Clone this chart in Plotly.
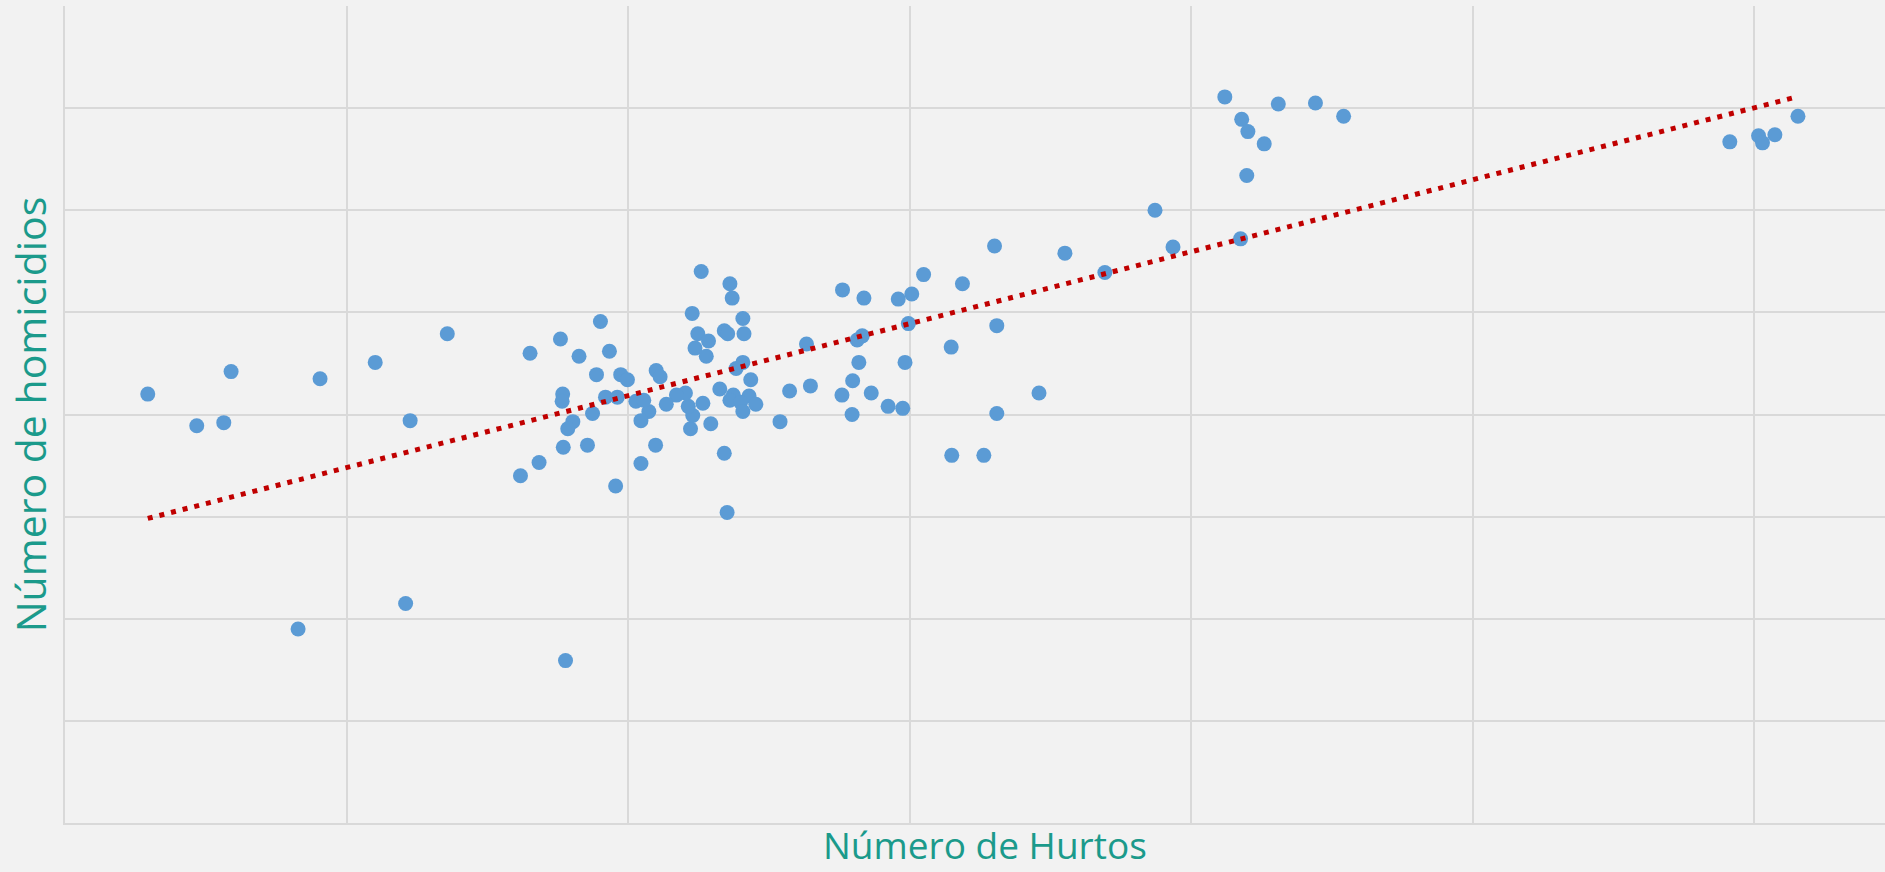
import numpy as np
import plotly.graph_objects as go

# Número de Hurtos (x) y Número de homicidios (y)
hurtos = [
    147, 234, 282, 295, 414, 453, 551, 605, 613, 679,
    1130, 1181, 1185, 1381, 1419, 1480, 1114, 951, 1204, 880,
    826, 913, 967, 1124, 1143, 1119, 1139, 1171, 1177, 1206,
    1317, 1407, 1416, 1410, 1492, 1488, 1399, 1380, 1432, 1462,
    1398, 1324, 1287, 1270, 1171, 1176, 1192, 1204, 1218, 1163,
    1187, 1181, 1215, 1227, 1200, 1204, 1133, 1147, 1111, 1115,
    1107, 1102, 1086, 1068, 1050, 1057, 1037, 1023, 1014, 1028,
    987, 999, 944, 960, 981, 937, 902, 893, 884, 883,
    885, 928, 842, 809, 978, 1023, 1049, 889,
    1504, 1525, 1651, 1776, 1594, 1936, 1847, 1498, 1655, 1574,
    1730, 1655, 1575, 1632, 1968, 2060, 2090, 2101, 2130, 2099,
    2088, 2155, 2221, 2271, 2957, 3008, 3015, 3037, 3078,
]
homicidios = [
    42.0, 38.9, 39.2, 44.2, 19.0, 43.5, 45.1, 21.5, 39.4, 47.9,
    54.0, 52.8, 51.4, 52.2, 51.4, 51.3, 49.9, 49.1, 49.4, 47.4,
    46.0, 45.7, 46.2, 47.9, 47.2, 46.5, 45.7, 48.2, 47.9, 47.9,
    46.9, 47.3, 47.7, 45.1, 45.1, 40.6, 43.3, 41.9, 42.1, 40.8,
    40.0, 42.8, 42.3, 39.3, 36.2, 30.4, 44.5, 45.1, 43.4, 42.5,
    41.9, 41.4, 41.8, 41.0, 41.2, 40.3, 41.1, 39.1, 38.6, 39.9,
    40.8, 42.1, 41.9, 41.0, 44.3, 43.7, 40.3, 39.4, 41.3, 41.4,
    43.9, 43.4, 43.9, 41.7, 41.7, 40.1, 39.3, 38.6, 42.0, 41.3,
    36.8, 37.0, 35.3, 34.0, 33.0, 35.2, 37.0, 15.9,
    51.8, 53.7, 56.5, 55.8, 52.8, 60.0, 53.9, 48.9, 48.7, 46.6,
    42.1, 40.1, 36.0, 36.0, 56.4, 71.1, 68.9, 67.7, 66.5, 63.4,
    57.2, 70.4, 70.5, 69.2, 66.7, 67.3, 66.6, 67.4, 69.2,
]

x_title = "Número de Hurtos"
y_title = "Número de homicidios"

TEAL = "#1B9A8B"
GRID = "#D9D9D9"

# Línea de tendencia lineal (mínimos cuadrados), de min(x) a max(x)
slope, intercept = np.polyfit(hurtos, homicidios, 1)
tx = np.array([min(hurtos), max(hurtos)])
ty = slope * tx + intercept

fig = go.Figure()
fig.add_trace(go.Scatter(
    x=hurtos, y=homicidios, mode="markers",
    marker=dict(size=15, color="#5B9BD5", line=dict(width=0)),
    showlegend=False, hoverinfo="x+y",
))
fig.add_trace(go.Scatter(
    x=tx, y=ty, mode="lines",
    line=dict(color="#C00000", width=5, dash="5px,7px"),
    showlegend=False, hoverinfo="skip",
))

fig.update_layout(
    width=1885, height=872,
    paper_bgcolor="#F2F2F2", plot_bgcolor="rgba(0,0,0,0)",
    margin=dict(l=65, r=0, t=6, b=49, autoexpand=False),
    font=dict(family="Open Sans", color=TEAL),
    xaxis=dict(
        range=[0, 3232.6], dtick=500, tick0=0,
        showgrid=True, gridcolor=GRID, gridwidth=2,
        showline=True, linecolor=GRID, linewidth=2,
        zeroline=False, showticklabels=False, ticks="",
        automargin=False, fixedrange=True,
    ),
    yaxis=dict(
        range=[0, 80], dtick=10, tick0=0,
        showgrid=True, gridcolor=GRID, gridwidth=2,
        showline=True, linecolor=GRID, linewidth=2,
        zeroline=False, showticklabels=False, ticks="",
        title=dict(text=y_title, font=dict(size=41, color=TEAL), standoff=4),
        automargin=False, fixedrange=True,
    ),
    annotations=[dict(
        text=x_title, xref="paper", yref="paper",
        x=0.5055, y=-0.026, xanchor="center", yanchor="middle",
        showarrow=False, borderpad=0,
        font=dict(size=37, color=TEAL, family="Open Sans"),
    )],
)

fig.write_html(
    "out.html",
    config={"displayModeBar": False},
    post_script="document.body.style.margin='0';document.body.style.background='#F2F2F2';document.body.style.overflow='hidden';",
)
